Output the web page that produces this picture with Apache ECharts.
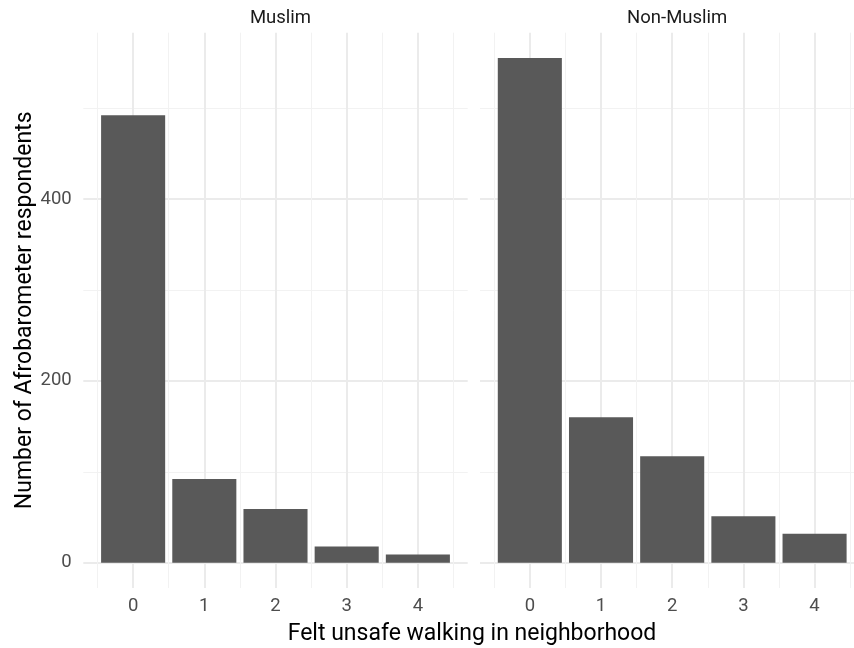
<!DOCTYPE html>
<html><head><meta charset="utf-8">
<script src="https://cdn.jsdelivr.net/npm/echarts@6/dist/echarts.min.js"></script>
<style>html,body{margin:0;padding:0;background:#fff;overflow:hidden}#c{width:854px;height:648px}</style>
</head><body><div id="c"></div>
<script>
// ---- data ----
const categories = [0, 1, 2, 3, 4];
const panels = ['Muslim', 'Non-Muslim'];
const muslimCounts = [492, 92, 59, 18, 9];
const nonMuslimCounts = [555, 160, 117, 51, 32];
const yTicks = [0, 200, 400];
const yMinorTicks = [100, 300, 500];
const xMinorTicks = [-0.5, 0.5, 1.5, 2.5, 3.5, 4.5];
const xTitle = 'Felt unsafe walking in neighborhood';
const yTitle = 'Number of Afrobarometer respondents';

// ---- layout / style ----
const FONT = 'Roboto';
const panelTop = 32.7, panelHeight = 555.3, panelWidth = 384.4;
const panelLefts = [83.3, 480];
const allVals = muslimCounts.concat(nonMuslimCounts);
const yMaxData = Math.max.apply(null, allVals);
const yMin = -0.05 * yMaxData, yMax = yMaxData * 1.05;
const xMin = -0.7, xMax = 4.7;
const major = { color: '#ebebeb', width: 2, type: 'solid' };
const minor = { color: '#f2f2f2', width: 1, type: 'solid' };
const TICK_FS = 18.5, TITLE_FS = 23;

function gridLines() {
  const d = [];
  yTicks.forEach(v => d.push({ yAxis: v, lineStyle: major }));
  yMinorTicks.forEach(v => d.push({ yAxis: v, lineStyle: minor }));
  categories.forEach(v => d.push({ xAxis: v, lineStyle: major }));
  xMinorTicks.forEach(v => d.push({ xAxis: v, lineStyle: minor }));
  return d;
}

const seriesData = [muslimCounts, nonMuslimCounts];
const option = {
  animation: false,
  backgroundColor: '#ffffff',
  textStyle: { fontFamily: FONT },
  title: [
    { text: panels[0], left: panelLefts[0] + panelWidth / 2, top: 4, textAlign: 'center',
      textStyle: { fontFamily: FONT, fontSize: TICK_FS, fontWeight: 'normal', color: '#1a1a1a' } },
    { text: panels[1], left: panelLefts[1] + panelWidth / 2, top: 4, textAlign: 'center',
      textStyle: { fontFamily: FONT, fontSize: TICK_FS, fontWeight: 'normal', color: '#1a1a1a' } },
    { text: xTitle, left: 467, top: 618, textAlign: 'center',
      textStyle: { fontFamily: FONT, fontSize: TITLE_FS, fontWeight: 'normal', color: '#000000' } }
  ],
  grid: panelLefts.map(l => ({ left: l, top: panelTop, width: panelWidth, height: panelHeight,
                               containLabel: false, outerBoundsMode: 'none' })),
  xAxis: [0, 1].map(i => ({
    type: 'value', gridIndex: i, min: xMin, max: xMax,
    axisLine: { show: false, onZero: false }, axisTick: { show: false },
    splitLine: { show: false }, minorSplitLine: { show: false },
    axisLabel: { customValues: categories, color: '#4d4d4d', fontSize: TICK_FS, fontFamily: FONT, margin: 9 }
  })),
  yAxis: [0, 1].map(i => ({
    type: 'value', gridIndex: i, min: yMin, max: yMax,
    axisLine: { show: false, onZero: false }, axisTick: { show: false },
    splitLine: { show: false },
    name: i === 0 ? yTitle : '', nameLocation: 'middle', nameRotate: 90, nameGap: 46,
    nameTextStyle: { fontFamily: FONT, fontSize: TITLE_FS, color: '#000000' },
    axisLabel: { show: i === 0, customValues: yTicks, color: '#4d4d4d', fontSize: TICK_FS, fontFamily: FONT, margin: 11.6 }
  })),
  series: seriesData.map((vals, i) => ({
    type: 'bar', xAxisIndex: i, yAxisIndex: i, z: 2,
    barWidth: '90%',
    itemStyle: { color: '#595959' },
    data: categories.map((c, k) => [c, vals[k]]),
    markLine: {
      z: 1, silent: true, symbol: ['none', 'none'], label: { show: false },
      emphasis: { disabled: true }, animation: false,
      data: gridLines()
    }
  }))
};
const chart = echarts.init(document.getElementById('c'), null, { renderer: 'canvas' });
chart.setOption(option);
</script>
</body></html>
